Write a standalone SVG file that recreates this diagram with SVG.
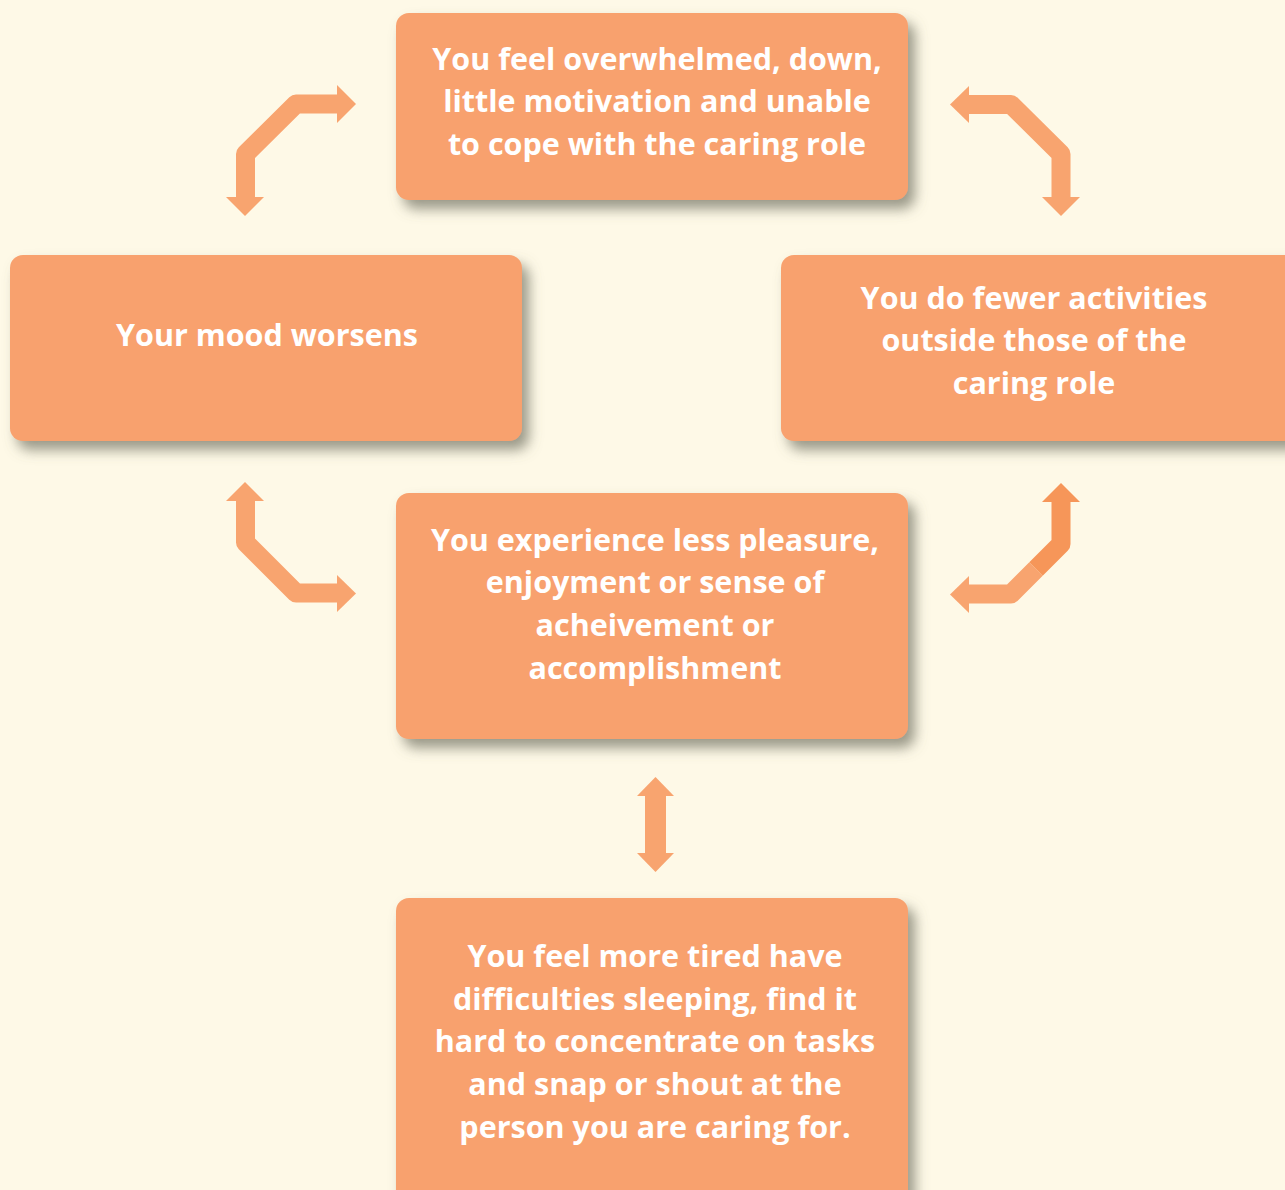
<svg xmlns="http://www.w3.org/2000/svg" width="1285" height="1190" viewBox="0 0 1285 1190">
<defs>
<filter id="sh" x="-10%" y="-10%" width="125%" height="130%">
<feDropShadow dx="7" dy="9" stdDeviation="6.5" flood-color="#707060" flood-opacity="0.7"/>
</filter>
</defs>
<style>
.box{fill:#F8A16E;filter:url(#sh)}
.t{font-family:"Open Sans","Noto Sans",sans-serif;font-weight:bold;font-size:30.5px;fill:#ffffff;text-anchor:middle}
.sh{fill:none;stroke:#F8A46F;stroke-width:19;stroke-linejoin:round}
.hd{fill:#F8A46F}
</style>
<rect width="1285" height="1190" fill="#FEF9E7"/>
<g id="connectors">
<g id="arrow-tl">
<path class="sh" d="M245.5,198 L245.5,154 L296,104 L338,104"/>
<polygon class="hd" points="337,85 356,104 337,123"/>
<polygon class="hd" points="226,197 264,197 245,216"/>
</g>
<g id="arrow-tr">
<path class="sh" d="M968,104.5 L1011,104.5 L1061,154 L1061,198"/>
<polygon class="hd" points="969,86 950,104.5 969,123"/>
<polygon class="hd" points="1042,197 1080,197 1061,216"/>
</g>
<g id="arrow-bl">
<path class="sh" d="M245.5,500 L245.5,542.5 L296,593 L338,593"/>
<polygon class="hd" points="226,501 245,482 264,501"/>
<polygon class="hd" points="337,575 356,593.5 337,612"/>
</g>
<g id="arrow-br">
<path class="sh" d="M968,594 L1011,594 L1036,569"/>
<path class="sh" style="stroke:#F69659" d="M1036,569 L1061,544 L1061,501"/>
<polygon class="hd" points="969,576 950,594.5 969,613"/>
<polygon class="hd" style="fill:#F69659" points="1042,502 1061,483 1080,502"/>
</g>
<g id="arrow-v">
<rect class="hd" x="645" y="795" width="21" height="59"/>
<polygon class="hd" points="637,796 655.5,777 674,796"/>
<polygon class="hd" points="637,853 674,853 655.5,872"/>
</g>
</g>
<g id="node-top">
<rect class="box" x="396" y="13" width="512" height="187" rx="13"/>
<text class="t" x="657" y="70">You feel overwhelmed, down,</text>
<text class="t" x="657" y="112">little motivation and unable</text>
<text class="t" x="657" y="155">to cope with the caring role</text>
</g>
<g id="node-left">
<rect class="box" x="10" y="255" width="512" height="186" rx="13"/>
<text class="t" x="267" y="346">Your mood worsens</text>
</g>
<g id="node-right">
<rect class="box" x="781" y="255" width="520" height="186" rx="13"/>
<text class="t" x="1034" y="309">You do fewer activities</text>
<text class="t" x="1034" y="351">outside those of the</text>
<text class="t" x="1034" y="394">caring role</text>
</g>
<g id="node-middle">
<rect class="box" x="396" y="493" width="512" height="246" rx="13"/>
<text class="t" x="655" y="551">You experience less pleasure,</text>
<text class="t" x="655" y="593">enjoyment or sense of</text>
<text class="t" x="655" y="636">acheivement or</text>
<text class="t" x="655" y="679">accomplishment</text>
</g>
<g id="node-bottom">
<rect class="box" x="396" y="898" width="512" height="310" rx="13"/>
<text class="t" x="655" y="967">You feel more tired have</text>
<text class="t" x="655" y="1010">difficulties sleeping, find it</text>
<text class="t" x="655" y="1052">hard to concentrate on tasks</text>
<text class="t" x="655" y="1095">and snap or shout at the</text>
<text class="t" x="655" y="1138">person you are caring for.</text>
</g>
</svg>
